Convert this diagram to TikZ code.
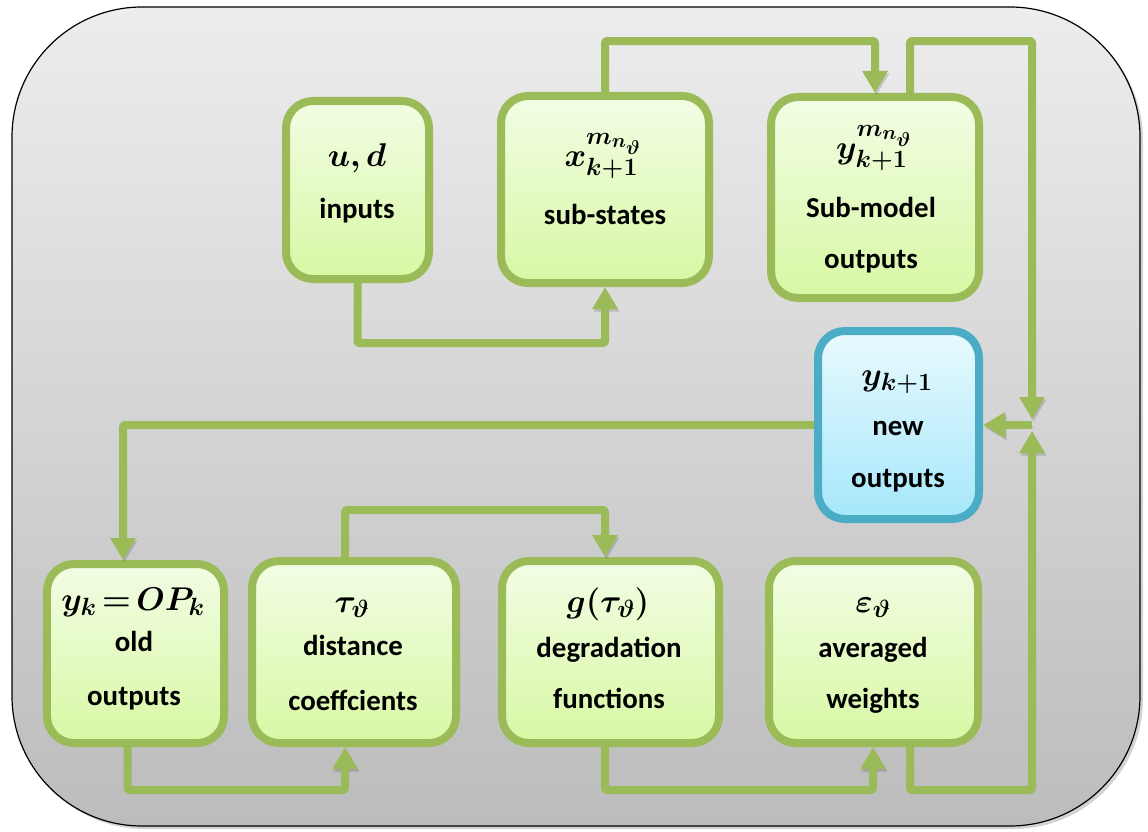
\RequirePackage{fix-cm}
\documentclass[tikz,border=0pt]{standalone}
\usepackage{amsmath,bm}
\usepackage[no-math]{fontspec}
\setmainfont{Carlito}
\usetikzlibrary{arrows.meta,shadows,calc}
\DeclareMathSizes{33}{33}{25}{20}

\definecolor{linkgreen}{HTML}{9BBB59}
\definecolor{gfillTop}{HTML}{F2FDE4}
\definecolor{gfillBot}{HTML}{D8F8A4}
\definecolor{bline}{HTML}{4BACC6}
\definecolor{bfillTop}{HTML}{E8FAFE}
\definecolor{bfillBot}{HTML}{A6E7FB}
\definecolor{frameTop}{HTML}{EDEDED}
\definecolor{frameBot}{HTML}{BCBCBC}

\begin{document}
\begin{tikzpicture}[x=1bp,y=-1bp,
  gbox/.style={rectangle, rounded corners=27bp, draw=linkgreen, line width=8bp,
    top color=gfillTop, bottom color=gfillBot,
    drop shadow={opacity=0.25, shadow xshift=2bp, shadow yshift=-3bp}},
  bbox/.style={gbox, draw=bline, top color=bfillTop, bottom color=bfillBot},
  conn/.style={draw=linkgreen, line width=8bp, line join=round, rounded corners=2bp,
    -{Triangle[width=24bp,length=22bp]},
    preaction={draw=black, opacity=0.15, transform canvas={shift={(1.5bp,-2.5bp)}}}},
  lbl/.style={font=\fontsize{29}{35}\selectfont\bfseries, inner sep=0pt, anchor=base},
  mth/.style={lbl, font=\fontsize{33}{40}\selectfont}]

\useasboundingbox (0,0) rectangle (1148,832);

% outer panel
\path[draw=black, line width=1.2bp, rounded corners=130bp,
  top color=frameTop, bottom color=frameBot,
  drop shadow={opacity=0.35, shadow xshift=3bp, shadow yshift=-3bp}]
  (12,7) rectangle (1140,826);

% blocks
\node[gbox, minimum width=143bp, minimum height=178bp] (inputs)   at (357.5,190)   {};
\node[gbox, minimum width=208bp, minimum height=187bp] (sub)      at (605,189.5)   {};
\node[gbox, minimum width=208bp, minimum height=201bp] (submodel) at (875,197.5)   {};
\node[bbox, minimum width=161bp, minimum height=188bp] (newout)   at (898.5,425)   {};
\node[gbox, minimum width=177bp, minimum height=179bp] (old)      at (135.5,653.5) {};
\node[gbox, minimum width=204bp, minimum height=182bp] (dist)     at (354,652)     {};
\node[gbox, minimum width=217bp, minimum height=182bp] (degr)     at (610.5,652)   {};
\node[gbox, minimum width=209bp, minimum height=182bp] (avg)      at (873.5,652)   {};

% labels
\node[mth] (inputs-m) at (357,166) {$\bm{u, d}$};
\node[lbl] (inputs-t) at (357,218) {inputs};
\node[mth] (sub-m) at (603,166) {$\bm{x^{m_{n_\vartheta}}_{k+1}}$};
\node[lbl] (sub-t) at (605,224) {sub-states};
\node[mth] (submodel-m) at (874,158) {$\bm{y^{m_{n_\vartheta}}_{k+1}}$};
\node[lbl] (submodel-t1) at (871,217) {Sub-model};
\node[lbl] (submodel-t2) at (871,268) {outputs};
\node[mth] (newout-m) at (897,385) {$\bm{y_{k+1}}$};
\node[lbl] (newout-t1) at (898,435) {new};
\node[lbl] (newout-t2) at (898,487) {outputs};
\node[mth] (old-m) at (133,610) {$\bm{y_k\,{=}\,OP_k}$};
\node[lbl] (old-t1) at (134,651) {old};
\node[lbl] (old-t2) at (134,705) {outputs};
\node[mth] (dist-m) at (352,612) {$\bm{\tau_\vartheta}$};
\node[lbl] (dist-t1) at (353,655) {distance};
\node[lbl] (dist-t2) at (353,710) {coeffcients};
\node[mth] (degr-m) at (608,612) {$\bm{g(\tau_\vartheta)}$};
\node[lbl] (degr-t1) at (609,657) {degradation};
\node[lbl] (degr-t2) at (609,708) {functions};
\node[mth] (avg-m) at (873,612) {$\bm{\varepsilon_\vartheta}$};
\node[lbl] (avg-t1) at (873,657) {averaged};
\node[lbl] (avg-t2) at (873,708) {weights};

% routing levels and junction
\coordinate (yA) at (0,343);
\coordinate (yTop) at (0,41);
\coordinate (yB) at (0,790);
\coordinate (yC) at (0,510);
\coordinate (jin) at (1032,419);
\coordinate (jup) at (1032,431);
\coordinate (jmid) at (1032,425);

% ports off the block centres
\coordinate (smout) at ([xshift=35bp]submodel.north);
\coordinate (avout) at ([xshift=36.5bp]avg.south);
\coordinate (oldin) at ([xshift=-12.5bp]old.north);
\coordinate (oldout) at ([xshift=-8bp]old.south);
\coordinate (distin) at ([xshift=-9bp]dist.south);
\coordinate (distout) at ([xshift=-9bp]dist.north);
\coordinate (degrin) at ([xshift=-5.5bp]degr.north);
\coordinate (degrout) at ([xshift=-5.5bp]degr.south);
\coordinate (avin) at ([xshift=-0.5bp]avg.south);

% connectors
\draw[conn] (inputs.south) -- (inputs.south |- yA) -| (sub.south);
\draw[conn] (sub.north) -- (sub.north |- yTop) -| (submodel.north);
\draw[conn] (smout) -- (smout |- yTop) -| (jin);
\draw[conn] (avout) -- (avout |- yB) -| (jup);
\draw[conn] (jmid) -- (newout.east);
\draw[conn] (newout.west) -| (oldin);
\draw[conn] (oldout) -- (oldout |- yB) -| (distin);
\draw[conn] (distout) -- (distout |- yC) -| (degrin);
\draw[conn] (degrout) -- (degrout |- yB) -| (avin);
\end{tikzpicture}
\end{document}
